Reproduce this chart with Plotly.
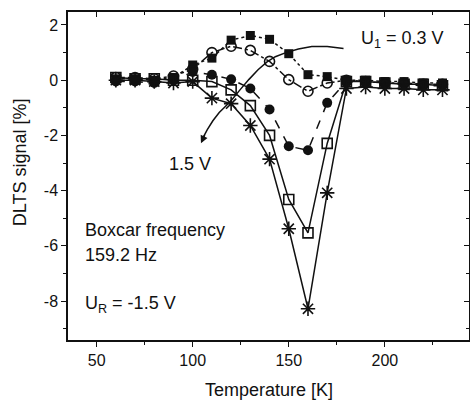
import plotly.graph_objects as go

# ---- data ----
temperature = [60, 70, 80, 90, 100, 110, 120, 130, 140, 150, 160, 170, 180, 190, 200, 210, 220, 230]
sig_sq_filled = [0.05, 0.05, 0.0, 0.1, 0.55, 0.8, 1.45, 1.62, 1.48, 0.96, 0.2, 0.13, 0.0, 0.0, -0.05, -0.05, -0.1, -0.1]
sig_circ_open = [0.1, 0.1, 0.05, 0.15, 0.4, 1.0, 1.23, 1.08, 0.68, 0.02, -0.4, -0.1, 0.0, -0.05, -0.1, -0.1, -0.15, -0.15]
sig_circ_filled = [-0.05, -0.05, -0.1, 0.0, 0.3, 0.2, 0.03, -0.3, -1.06, -2.39, -2.54, -0.82, -0.05, -0.1, -0.15, -0.15, -0.2, -0.2]
sig_sq_open = [0.1, 0.05, 0.05, 0.0, 0.0, -0.05, -0.35, -0.92, -2.0, -4.32, -5.53, -2.29, -0.05, -0.05, -0.1, -0.15, -0.15, -0.2]
sig_asterisk = [0.0, 0.0, -0.05, -0.1, -0.05, -0.65, -0.85, -1.64, -2.86, -5.38, -8.28, -4.08, -0.3, -0.25, -0.3, -0.3, -0.35, -0.35]

x_ticks = [50, 100, 150, 200]
x_tick_labels = ["50", "100", "150", "200"]
y_ticks = [-8, -6, -4, -2, 0, 2]
y_tick_labels = ["-8", "-6", "-4", "-2", "0", "2"]
x_range = [35.1, 243.8]
y_range = [-9.41, 2.47]

FONT = "Liberation Sans, Arial, sans-serif"
BLK = "#111111"

fig = go.Figure()

series = [
    (sig_sq_filled, "square", "dot", 9, 0),
    (sig_circ_open, "circle-open", "dashdot", 10, 1.6),
    (sig_circ_filled, "circle", "dash", 10, 0),
    (sig_sq_open, "square-open", "solid", 10, 1.6),
    (sig_asterisk, "asterisk-open", "solid", 12, 1.6),
]
for ys, sym, dash, size, mlw in series:
    fig.add_trace(go.Scatter(
        x=temperature, y=ys, mode="lines+markers",
        line=dict(color=BLK, width=1.5, dash=dash),
        marker=dict(symbol=sym, size=size, color=BLK,
                    line=dict(color=BLK, width=mlw)),
        showlegend=False, hoverinfo="skip"))

# empty trace to carry the mirrored (top/right) axes
fig.add_trace(go.Scatter(x=[], y=[], xaxis="x2", yaxis="y2", showlegend=False))

# curved arrow from U1 = 0.3 V label to 1.5 V label
curve = [(178.5, 1.15), (170, 1.22), (162, 1.22), (155, 1.13), (148.5, 1.0),
         (143, 0.85), (138.7, 0.66), (134, 0.38), (129.3, 0.03), (124.5, -0.36),
         (120.5, -0.70), (117, -0.95), (113.8, -1.17), (110.5, -1.47),
         (107.6, -1.79), (105.6, -2.05)]
path = "M " + " L ".join(f"{a},{b}" for a, b in curve)
fig.add_shape(type="path", path=path, xref="x", yref="y",
              line=dict(color=BLK, width=1.5))
fig.add_annotation(x=104.3, y=-2.28, ax=106.6, ay=-1.93, xref="x", yref="y",
                   axref="x", ayref="y", text="", showarrow=True,
                   arrowhead=2, arrowsize=1, arrowwidth=1.5, arrowcolor=BLK)

ann_font = dict(family=FONT, size=18, color=BLK)
fig.add_annotation(x=186.3, y=1.47, xref="x", yref="y", text="U<sub>1</sub> = 0.3 V",
                   showarrow=False, xanchor="left", yanchor="middle", font=ann_font)
fig.add_annotation(x=98.8, y=-3.05, xref="x", yref="y", text="1.5 V",
                   showarrow=False, xanchor="center", yanchor="middle", font=ann_font)
fig.add_annotation(x=43.1, y=-5.41, xref="x", yref="y", text="Boxcar frequency",
                   showarrow=False, xanchor="left", yanchor="middle", font=ann_font)
fig.add_annotation(x=43.1, y=-6.32, xref="x", yref="y", text="159.2 Hz",
                   showarrow=False, xanchor="left", yanchor="middle", font=ann_font)
fig.add_annotation(x=43.1, y=-8.13, xref="x", yref="y", text="U<sub>R</sub> = -1.5 V",
                   showarrow=False, xanchor="left", yanchor="middle", font=ann_font)

# axis titles placed in paper space
fig.add_annotation(x=0.5, y=-0.152, xref="paper", yref="paper", text="Temperature [K]",
                   showarrow=False, xanchor="center", yanchor="middle", font=ann_font)
fig.add_annotation(x=-0.119, y=0.543, xref="paper", yref="paper", text="DLTS signal [%]",
                   showarrow=False, xanchor="center", yanchor="middle", textangle=-90,
                   font=ann_font)

axis_common = dict(showgrid=False, zeroline=False, showline=True, automargin=False,
                   linecolor=BLK, linewidth=1.5, tickcolor=BLK, tickwidth=1.2)

fig.update_layout(
    width=470, height=404,
    margin=dict(l=68, r=1, t=12, b=64, autoexpand=False),
    paper_bgcolor="white", plot_bgcolor="white",
    font=dict(family=FONT, size=16, color=BLK),
    xaxis=dict(range=x_range, tickvals=x_ticks, ticktext=x_tick_labels,
               ticks="outside", ticklen=5,
               minor=dict(ticks="outside", ticklen=3, tickvals=[75, 125, 175, 225],
                          tickcolor=BLK),
               tickfont=dict(size=16), **axis_common),
    yaxis=dict(range=y_range, tickvals=y_ticks, ticktext=y_tick_labels,
               ticks="outside", ticklen=5,
               minor=dict(ticks="outside", ticklen=3, tickvals=[-9, -7, -5, -3, -1, 1],
                          tickcolor=BLK),
               tickfont=dict(size=16), **axis_common),
    xaxis2=dict(range=x_range, overlaying="x", side="top", anchor="y",
                tickvals=x_ticks, ticks="inside", ticklen=5, showticklabels=False,
                minor=dict(ticks="inside", ticklen=3, tickvals=[75, 125, 175, 225],
                           tickcolor=BLK),
                **axis_common),
    yaxis2=dict(range=y_range, overlaying="y", side="right", anchor="x",
                tickvals=y_ticks, ticks="inside", ticklen=5, showticklabels=False,
                minor=dict(ticks="inside", ticklen=3, tickvals=[-9, -7, -5, -3, -1, 1],
                           tickcolor=BLK),
                **axis_common),
)

fig.write_html("out.html", config={"displayModeBar": False},
               post_script="document.body.style.margin='0';document.body.style.overflow='hidden';")
